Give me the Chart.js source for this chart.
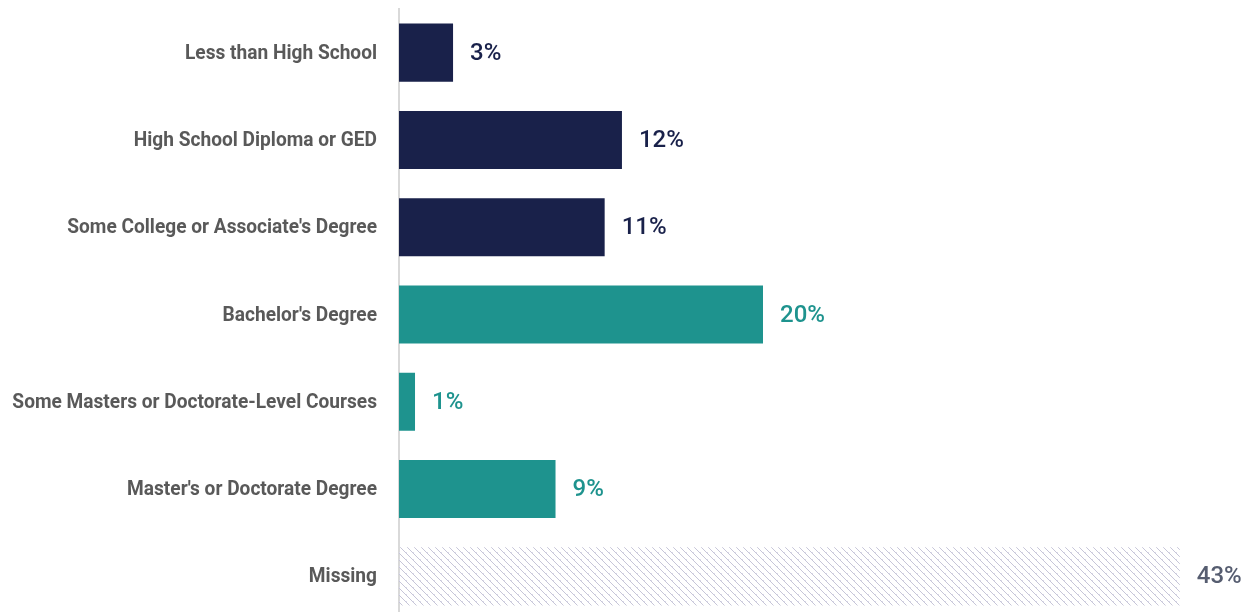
<!DOCTYPE html>
<html>
<head>
<meta charset="utf-8">
<script src="https://cdn.jsdelivr.net/npm/chart.js@4.4.1/dist/chart.umd.min.js"></script>
<style>
  html, body { margin: 0; padding: 0; background: #fff; overflow: hidden; }
</style>
</head>
<body>
<canvas id="eduChart" width="1253" height="622"></canvas>
<script>
// data
const categories = [
  "Less than High School",
  "High School Diploma or GED",
  "Some College or Associate's Degree",
  "Bachelor's Degree",
  "Some Masters or Doctorate-Level Courses",
  "Master's or Doctorate Degree",
  "Missing"
];
const shares = [2.97, 12.25, 11.3, 20.0, 0.88, 8.6, 42.9];
const shareLabels = ["3%", "12%", "11%", "20%", "1%", "9%", "43%"];

const navy = "#19214a";
const teal = "#1e938e";
const grayText = "#565d70";

// dotted diagonal hatch for the Missing bar
function makeHatch() {
  const n = 7;
  const c = document.createElement("canvas");
  c.width = n; c.height = n;
  const g = c.getContext("2d");
  for (let y = 0; y < n; y++) {
    for (let x = 0; x < n; x++) {
      const d = ((x - y) % n + n) % n;
      if (d === 0) { g.fillStyle = "#c6c5d8"; g.fillRect(x, y, 1, 1); }
      else if (d === 1 && (x + y) % 2 === 0) { g.fillStyle = "#dcdbea"; g.fillRect(x, y, 1, 1); }
    }
  }
  return g.createPattern(c, "repeat");
}
const hatch = makeHatch();

const barColors = [navy, navy, navy, teal, teal, teal, hatch];
const labelColors = [navy, navy, navy, teal, teal, teal, grayText];

// condensed category labels (squeezed horizontally) + value labels
const labelPlugin = {
  id: "labelPlugin",
  afterDatasetsDraw(chart) {
    const ctx = chart.ctx;
    const yScale = chart.scales.y;
    const meta = chart.getDatasetMeta(0);

    ctx.save();
    ctx.font = "bold 20px Roboto";
    ctx.textBaseline = "middle";
    ctx.textAlign = "right";
    ctx.fillStyle = "#595959";
    const squeeze = 192 / ctx.measureText(categories[0]).width;
    const right = yScale.right - 22;
    categories.forEach((cat, i) => {
      const y = yScale.getPixelForValue(i) + 1;
      ctx.save();
      ctx.translate(right, y);
      ctx.scale(squeeze, 1);
      ctx.fillText(cat, 0, 0);
      ctx.restore();
    });
    ctx.restore();

    ctx.save();
    ctx.font = "500 24px Roboto";
    ctx.textBaseline = "middle";
    ctx.textAlign = "left";
    meta.data.forEach((bar, i) => {
      ctx.fillStyle = labelColors[i];
      ctx.fillText(shareLabels[i], bar.x + 17, bar.y + 1);
    });
    ctx.restore();
  }
};

const ctx = document.getElementById("eduChart").getContext("2d");
new Chart(ctx, {
  type: "bar",
  data: {
    labels: categories,
    datasets: [{
      data: shares,
      backgroundColor: barColors,
      barPercentage: 0.665,
      categoryPercentage: 1.0
    }]
  },
  options: {
    indexAxis: "y",
    responsive: false,
    animation: false,
    layout: { padding: { top: 9, right: 35, bottom: 2, left: 0 } },
    plugins: {
      legend: { display: false },
      tooltip: { enabled: false }
    },
    scales: {
      x: { min: 0, max: 45, display: false },
      y: {
        grid: { display: false, drawTicks: false },
        border: { color: "#d9d9d9", width: 2 },
        ticks: { display: false },
        afterFit(scale) {
          scale.width = 399;
          scale.paddingTop = 0;
          scale.paddingBottom = 0;
        }
      }
    }
  },
  plugins: [labelPlugin]
});
</script>
</body>
</html>
